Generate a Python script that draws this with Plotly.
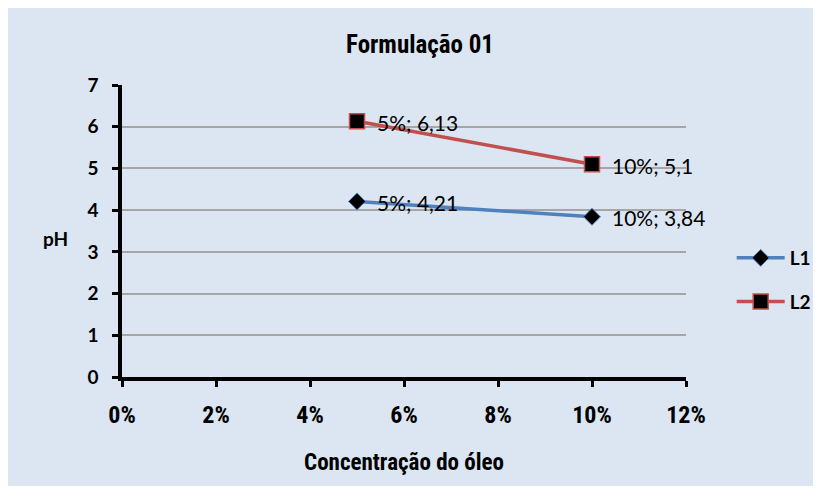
import plotly.graph_objects as go

conc = [0.05, 0.10]
l1 = [4.21, 3.84]
l2 = [6.13, 5.1]
series_names = ["L1", "L2"]

def labels(xs, ys):
    return [f"{int(round(x*100))}%; {str(y).replace('.', ',')}" for x, y in zip(xs, ys)]

cond = "Liberation Sans Narrow, Arial Narrow, Roboto Condensed, Roboto, sans-serif"
lab = "Lato, Open Sans, sans-serif"

# figure-pixel geometry (page offset of 8px removed)
L, R, T, B = 114, 678, 77, 369
W, H = 821, 492
pw, ph = R - L, B - T

fig = go.Figure()
fig.add_trace(go.Scatter(
    x=conc, y=l1, name=series_names[0], mode="lines+markers",
    line=dict(color="#4F81BD", width=3.5),
    marker=dict(symbol="diamond", size=13, color="black", line=dict(color="#4F81BD", width=1)),
    legendgroup="a",
))
fig.add_trace(go.Scatter(
    x=conc, y=l2, name=series_names[1], mode="lines+markers",
    line=dict(color="#C0504D", width=3.5),
    marker=dict(symbol="square", size=15, color="black", line=dict(color="#C0504D", width=1.5)),
    legendgroup="b",
))

for ys in (l1, l2):
    for x, y, t in zip(conc, ys, labels(conc, ys)):
        fig.add_annotation(x=x, y=y, text=t, showarrow=False, xanchor="left", yanchor="middle",
                           xshift=18, yshift=-1, font=dict(family=lab, size=21, color="black"))

fig.add_annotation(text="<b>pH</b>", xref="paper", yref="paper", x=(47 - L) / pw, y=(B - 230) / ph,
                   showarrow=False, xanchor="center", yanchor="middle",
                   font=dict(family=lab, size=19, color="black"))

fig.add_shape(type="rect", xref="paper", yref="paper",
              x0=(0 - L) / pw, x1=(807 - L) / pw, y0=(B - 478) / ph, y1=(B - 0) / ph,
              fillcolor="#DCE6F2", line=dict(width=0), layer="below")

fig.update_layout(
    width=W, height=H,
    margin=dict(l=L, r=W - R, t=T, b=H - B),
    paper_bgcolor="white", plot_bgcolor="rgba(0,0,0,0)",
    title=dict(text="<b>Formulação 01</b>", x=412 / W, xref="container", xanchor="center",
               y=1 - 36 / H, yanchor="middle",
               font=dict(family=cond, size=25, color="black")),
    legend=dict(x=1.081, y=(B - 231) / ph, xanchor="left", yanchor="top", bgcolor="rgba(0,0,0,0)",
                font=dict(family=lab, size=19, color="black", weight="bold"), tracegroupgap=16,
                itemwidth=48),
    showlegend=True,
)
fig.update_xaxes(range=[0, 0.12], dtick=0.02, tickformat=".0%", showgrid=False,
                 showline=True, linecolor="black", linewidth=3.5,
                 ticks="outside", ticklen=6, tickwidth=3, tickcolor="black",
                 tickfont=dict(family=cond, size=24, color="black", weight="bold"), ticklabelstandoff=7,
                 title=dict(text="<b>Concentração do óleo</b>", font=dict(family=cond, size=23, color="black"), standoff=27),
                 zeroline=False)
fig.update_yaxes(range=[0, 7], dtick=1, showgrid=True, gridcolor="#A6A6A6", gridwidth=1.5,
                 showline=True, linecolor="black", linewidth=3.5,
                 ticks="outside", ticklen=6, tickwidth=3, tickcolor="black",
                 tickfont=dict(family=lab, size=19, color="black", weight="bold"), ticklabelstandoff=10,
                 zeroline=False)

fig.write_html("out.html")
